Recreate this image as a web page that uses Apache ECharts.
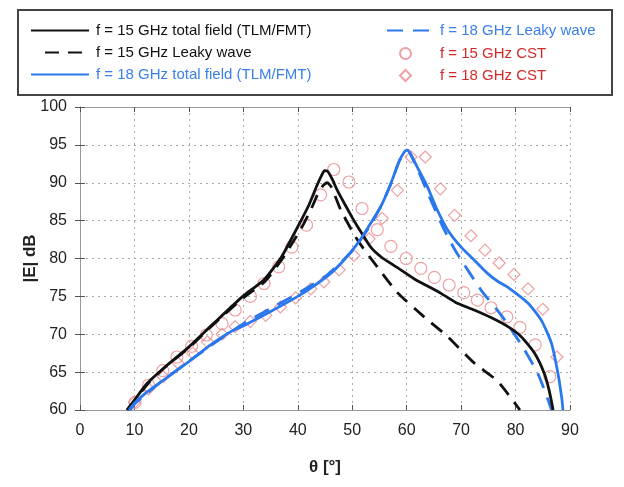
<!DOCTYPE html>
<html><head><meta charset="utf-8">
<script src="https://cdn.jsdelivr.net/npm/echarts@6/dist/echarts.min.js"></script>
<style>html,body{margin:0;padding:0;background:#fff}#c{width:624px;height:487px}</style>
</head><body><div id="c"></div>
<script>
// f = 15 GHz total field (TLM/FMT)
const t15Total = [8.6, 9.8, 12.3, 16, 19.8, 24.5, 29.9, 33.8, 37, 40, 42, 43.5, 44.4, 44.9, 45.5, 46.3, 47.2, 48, 50, 51, 53.4, 55.5, 58.3, 61.4, 64, 66.3, 69, 72.4, 75.5, 78.6, 81, 83.5, 85.3, 86.2, 86.9];
const e15Total = [60, 61.1, 63.5, 65.9, 68.2, 71.4, 75.0, 77.2, 80.2, 84.2, 87.0, 89.6, 91.0, 91.6, 91.5, 90.5, 89.1, 88.0, 85.4, 84.2, 81.5, 80.1, 78.8, 77.3, 76.3, 75.4, 74.2, 73.2, 72.2, 71.0, 69.7, 67.5, 64.8, 62.5, 60];
// f = 15 GHz Leaky wave
const t15Leaky = [8.8, 10, 12.5, 16, 20, 24.5, 30, 34, 37, 40, 41.1, 42.5, 43.6, 44.6, 45.4, 46.2, 47.9, 51, 54.6, 58.3, 63.2, 67.5, 72.4, 76.7, 80.8];
const e15Leaky = [60, 61.2, 63.5, 65.9, 68.2, 71.3, 74.8, 77.0, 79.8, 83.2, 84.6, 86.6, 88.4, 89.6, 90.0, 89.4, 86.4, 82.4, 78.9, 75.5, 72.3, 69.7, 66.2, 63.8, 60];
// f = 18 GHz total field (TLM/FMT)
const t18Total = [9, 10, 12, 14.7, 20, 24, 27.6, 30, 35, 40, 43, 46, 48.5, 51, 53, 55.2, 57, 58.6, 59.6, 60.1, 60.7, 62, 63.8, 65.5, 67.5, 70, 72.4, 74.9, 76.7, 78.6, 82.3, 84.7, 86.6, 87.8, 88.5, 88.7];
const e18Total = [60, 60.9, 62.2, 63.6, 66.4, 68.6, 70.3, 71.1, 73.0, 75.0, 76.4, 78.0, 79.8, 82.0, 84.2, 86.8, 89.7, 92.8, 94.1, 94.3, 93.8, 92.0, 89.5, 86.6, 83.8, 81.5, 79.8, 78.0, 77.0, 76.2, 74.1, 71.9, 68.8, 64.8, 61.5, 60];
// f = 18 GHz Leaky wave
const t18Leaky = [9.2, 10, 12, 15, 20, 25, 30, 35, 40, 45, 50, 53, 55.2, 57, 58.6, 59.6, 60.1, 60.7, 62, 64.5, 66.9, 68.9, 73.7, 77.6, 81.3, 84.1, 86, 86.6];
const e18Leaky = [60, 60.8, 62.0, 63.8, 66.4, 69.0, 71.4, 73.4, 75.4, 77.6, 81.0, 84.0, 86.8, 89.7, 92.8, 94.1, 94.3, 93.8, 91.8, 87.6, 83.8, 81.1, 75.8, 72.3, 68.35, 64.8, 61.3, 60];
// f = 15 GHz CST
const t15Cst = [10.1, 12.6, 15.2, 17.8, 20.5, 23.2, 26.1, 28.5, 31.3, 33.8, 36.5, 38.9, 41.6, 44.2, 46.6, 49.4, 51.8, 54.6, 57.1, 59.9, 62.6, 65.1, 67.8, 70.5, 73, 75.5, 78.4, 80.8, 83.6, 86.3];
const e15Cst = [61.0, 63.3, 65.2, 67.0, 68.4, 69.9, 71.4, 73.2, 75.0, 76.7, 78.9, 81.5, 84.4, 88.4, 91.75, 90.1, 86.6, 83.8, 81.6, 80.0, 78.7, 77.5, 76.5, 75.5, 74.5, 73.5, 72.3, 70.9, 68.6, 64.4];
// f = 18 GHz CST
const t18Cst = [10, 12.6, 15.3, 18, 20.7, 23.4, 26.1, 28.5, 31.3, 34.1, 36.8, 39.6, 42.4, 44.8, 47.6, 50.3, 53.1, 55.5, 58.3, 60.8, 63.4, 66.2, 68.8, 71.8, 74.4, 77, 79.7, 82.3, 85, 87.6];
const e18Cst = [61.0, 62.8, 64.4, 66.2, 67.5, 69.0, 70.0, 71.0, 71.7, 72.5, 73.6, 74.8, 76.0, 76.9, 78.5, 80.4, 82.6, 85.3, 89.0, 93.4, 93.4, 89.2, 85.7, 83.0, 81.1, 79.4, 77.9, 76.0, 73.3, 67.0];
const xTicks = [0, 10, 20, 30, 40, 50, 60, 70, 80, 90];
const yTicks = [60, 65, 70, 75, 80, 85, 90, 95, 100];

const names = ['f = 15 GHz total field (TLM/FMT)', 'f = 15 GHz Leaky wave', 'f = 18 GHz total field (TLM/FMT)', 'f = 18 GHz Leaky wave', 'f = 15 GHz CST', 'f = 18 GHz CST'];
const BLUE = '#2b78ee', BLACK = '#111', PINK = '#e8898c', BLUETXT = '#3a80e8', REDTXT = '#d42a2a';
const zip = (a, b) => a.map((v, i) => [v, b[i]]);
const FONT = '"Liberation Sans", Arial, sans-serif';

const chart = echarts.init(document.getElementById('c'), null, {renderer: 'canvas'});
const axisCommon = {type: 'value', min: 0, max: 90, interval: 10};
function legLine(name, left, top, w, color) {
  return {
    data: [{name: name, textStyle: {color: color}}],
    left: left, top: top, itemWidth: w, itemHeight: 14,
    itemStyle: {opacity: 0},
    textStyle: {fontSize: 15, fontFamily: FONT, color: color, padding: [0, 0, 0, 2]},
    selectedMode: false, padding: 0
  };
}
function legSym(name, left, top, color, gap) {
  return {
    data: [{name: name, textStyle: {color: color}}],
    left: left, top: top, itemWidth: 11, itemHeight: 11,
    textStyle: {fontSize: 15, fontFamily: FONT, color: color, padding: [0, 0, 0, gap]},
    selectedMode: false, padding: 0
  };
}
chart.setOption({
  animation: false,
  backgroundColor: '#fff',
  graphic: [{type: 'rect', shape: {x: 18, y: 10, width: 594, height: 85}, style: {fill: 'none', stroke: '#444', lineWidth: 2}, z: 100}],
  legend: [
    legLine(names[0], 30, 23, 58, BLACK),
    legLine(names[1], 44, 45, 44, BLACK),
    legLine(names[2], 30, 67, 58, BLUETXT),
    legLine(names[3], 386, 23, 46, BLUETXT),
    legSym(names[4], 399, 46, REDTXT, 24),
    legSym(names[5], 399, 68, REDTXT, 24)
  ],
  grid: {left: 80, right: 54, top: 107, bottom: 77, containLabel: false},
  xAxis: [
    Object.assign({}, axisCommon, {
      position: 'bottom',
      name: 'θ [°]', nameLocation: 'middle', nameGap: 49, nameMoveOverlap: false,
      nameTextStyle: {fontSize: 17, fontWeight: 'bold', fontFamily: FONT, color: '#222'},
      axisLine: {show: true, lineStyle: {color: '#999', width: 1}},
      axisTick: {show: true, inside: true, length: 5, lineStyle: {color: '#555'}},
      axisLabel: {fontSize: 16, fontFamily: FONT, color: '#222', margin: 13,
        formatter: v => xTicks.includes(v) ? String(v) : ''},
      splitLine: {show: true, lineStyle: {color: '#aaa', type: [2, 4], width: 1}}
    }),
    Object.assign({}, axisCommon, {
      position: 'top',
      axisLine: {show: true, lineStyle: {color: '#999', width: 1}},
      axisTick: {show: true, inside: true, length: 5, lineStyle: {color: '#555'}},
      axisLabel: {show: false}, splitLine: {show: false}
    })
  ],
  yAxis: [
    {
      type: 'value', min: 60, max: 100, interval: 5, position: 'left',
      name: '|E| dB', nameLocation: 'middle', nameGap: 41, nameRotate: 90, nameMoveOverlap: false,
      nameTextStyle: {fontSize: 17, fontWeight: 'bold', fontFamily: FONT, color: '#222'},
      axisLine: {show: true, lineStyle: {color: '#999', width: 1}},
      axisTick: {show: true, inside: true, length: 5, lineStyle: {color: '#555'}},
      axisLabel: {fontSize: 16, fontFamily: FONT, color: '#222', margin: 13,
        formatter: v => yTicks.includes(v) ? String(v) : ''},
      splitLine: {show: true, lineStyle: {color: '#aaa', type: [2, 4], width: 1}}
    },
    {
      type: 'value', min: 60, max: 100, interval: 5, position: 'right',
      axisLine: {show: true, lineStyle: {color: '#999', width: 1}},
      axisTick: {show: true, inside: true, length: 5, lineStyle: {color: '#555'}},
      axisLabel: {show: false}, splitLine: {show: false}
    }
  ],
  series: [
    {name: names[0], type: 'line', data: zip(t15Total, e15Total), symbol: 'none', smooth: 0.2,
     lineStyle: {color: BLACK, width: 2.8}, itemStyle: {color: BLACK}, z: 5},
    {name: names[1], type: 'line', data: zip(t15Leaky, e15Leaky), symbol: 'none', smooth: 0.2,
     lineStyle: {color: BLACK, width: 2.8, type: [14, 9]}, itemStyle: {color: BLACK}, z: 4},
    {name: names[2], type: 'line', data: zip(t18Total, e18Total), symbol: 'none', smooth: 0.2,
     lineStyle: {color: BLUE, width: 2.8}, itemStyle: {color: BLUE}, z: 5},
    {name: names[3], type: 'line', data: zip(t18Leaky, e18Leaky), symbol: 'none', smooth: 0.2,
     lineStyle: {color: BLUE, width: 2.8, type: [16, 10]}, itemStyle: {color: BLUE}, z: 4},
    {name: names[4], type: 'scatter', data: zip(t15Cst, e15Cst), symbol: 'circle', symbolSize: 12,
     itemStyle: {color: 'rgba(255,255,255,0)', borderColor: PINK, borderWidth: 1.2}, z: 3},
    {name: names[5], type: 'scatter', data: zip(t18Cst, e18Cst), symbol: 'diamond', symbolSize: 12,
     itemStyle: {color: 'rgba(255,255,255,0)', borderColor: PINK, borderWidth: 1.2}, z: 3}
  ]
});
</script></body></html>
